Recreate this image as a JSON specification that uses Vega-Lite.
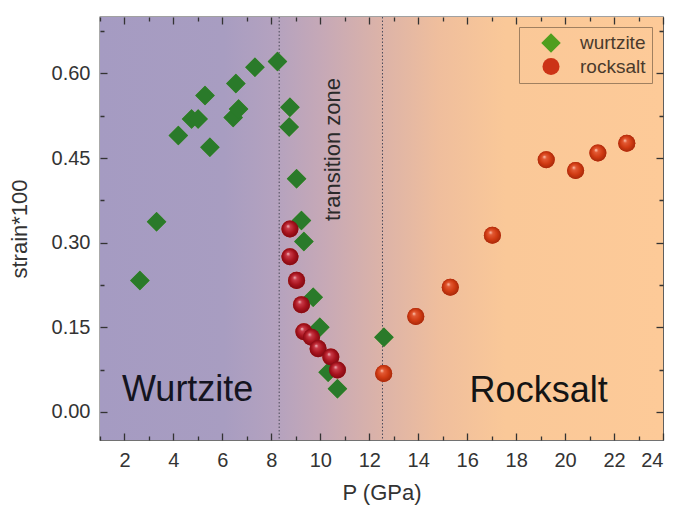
{
  "$schema": "https://vega.github.io/schema/vega-lite/v6.json",
  "autosize": "none",
  "width": 563,
  "height": 423,
  "padding": {"left": 100, "top": 17, "right": 15, "bottom": 72},
  "background": "white",
  "config": {
    "font": "Liberation Sans",
    "view": {"stroke": "#444444", "strokeWidth": 1.3},
    "axis": {"grid": false, "domain": false, "tickColor": "#333333", "tickWidth": 1.3, "labelColor": "#333333", "labelFontSize": 20, "titleFontSize": 22, "titleFontWeight": "normal", "titleColor": "#333333"}
  },
  "datasets": {
    "points": [
      {"P": 2.63, "strain": 0.233, "phase": "wurtzite"},
      {"P": 3.31, "strain": 0.337, "phase": "wurtzite"},
      {"P": 4.2, "strain": 0.49, "phase": "wurtzite"},
      {"P": 4.74, "strain": 0.519, "phase": "wurtzite"},
      {"P": 5.01, "strain": 0.519, "phase": "wurtzite"},
      {"P": 5.29, "strain": 0.561, "phase": "wurtzite"},
      {"P": 5.49, "strain": 0.469, "phase": "wurtzite"},
      {"P": 6.44, "strain": 0.522, "phase": "wurtzite"},
      {"P": 6.66, "strain": 0.537, "phase": "wurtzite"},
      {"P": 6.55, "strain": 0.582, "phase": "wurtzite"},
      {"P": 7.33, "strain": 0.611, "phase": "wurtzite"},
      {"P": 8.25, "strain": 0.621, "phase": "wurtzite"},
      {"P": 8.76, "strain": 0.54, "phase": "wurtzite"},
      {"P": 8.73, "strain": 0.505, "phase": "wurtzite"},
      {"P": 9.03, "strain": 0.413, "phase": "wurtzite"},
      {"P": 9.23, "strain": 0.339, "phase": "wurtzite"},
      {"P": 9.33, "strain": 0.302, "phase": "wurtzite"},
      {"P": 9.71, "strain": 0.203, "phase": "wurtzite"},
      {"P": 9.98, "strain": 0.15, "phase": "wurtzite"},
      {"P": 10.32, "strain": 0.07, "phase": "wurtzite"},
      {"P": 10.7, "strain": 0.041, "phase": "wurtzite"},
      {"P": 12.6, "strain": 0.132, "phase": "wurtzite"},
      {"P": 8.76, "strain": 0.324, "phase": "rocksalt"},
      {"P": 8.76, "strain": 0.275, "phase": "rocksalt"},
      {"P": 9.03, "strain": 0.233, "phase": "rocksalt"},
      {"P": 9.23, "strain": 0.19, "phase": "rocksalt"},
      {"P": 9.33, "strain": 0.142, "phase": "rocksalt"},
      {"P": 9.64, "strain": 0.132, "phase": "rocksalt"},
      {"P": 9.91, "strain": 0.112, "phase": "rocksalt"},
      {"P": 10.43, "strain": 0.097, "phase": "rocksalt"},
      {"P": 10.7, "strain": 0.074, "phase": "rocksalt"},
      {"P": 12.59, "strain": 0.068, "phase": "rocksalt"},
      {"P": 13.9, "strain": 0.169, "phase": "rocksalt"},
      {"P": 15.31, "strain": 0.221, "phase": "rocksalt"},
      {"P": 17.03, "strain": 0.313, "phase": "rocksalt"},
      {"P": 19.23, "strain": 0.447, "phase": "rocksalt"},
      {"P": 20.43, "strain": 0.428, "phase": "rocksalt"},
      {"P": 21.34, "strain": 0.459, "phase": "rocksalt"},
      {"P": 22.52, "strain": 0.476, "phase": "rocksalt"}
    ],
    "bounds": [{"P": 8.32}, {"P": 12.54}]
  },
  "layer": [
    {
      "data": {"values": [{}]},
      "mark": {"type": "rect", "fill": {"gradient": "linear", "x1": 0, "y1": 0, "x2": 1, "y2": 0, "stops": [
        {"offset": 0, "color": "#a59bc2"},
        {"offset": 0.22, "color": "#a89dc1"},
        {"offset": 0.31, "color": "#b4a2bf"},
        {"offset": 0.4, "color": "#c7a9b6"},
        {"offset": 0.5, "color": "#dcb3a8"},
        {"offset": 0.6, "color": "#efbe9d"},
        {"offset": 0.72, "color": "#fac898"},
        {"offset": 1, "color": "#fdca98"}
      ]}},
      "encoding": {}
    },
    {
      "data": {"name": "bounds"},
      "mark": {"type": "rule", "color": "#4a4a5a", "strokeWidth": 1, "strokeDash": [1.5, 2]},
      "encoding": {"x": {"field": "P", "type": "quantitative", "axis": null}}
    },
    {
      "data": {"name": "points"},
      "mark": {"type": "point", "filled": true, "opacity": 1},
      "encoding": {
        "x": {"field": "P", "type": "quantitative", "scale": {"domain": [1, 24], "nice": false, "zero": false},
          "axis": {"orient": "bottom", "zindex": 2, "offset": -7, "tickSize": 7, "values": [1,2,3,4,5,6,7,8,9,10,11,12,13,14,15,16,17,18,19,20,21,22,23,24], "labelExpr": "datum.value % 2 == 0 ? datum.label : ''", "tickDash": {"condition": {"test": "datum.value % 2 != 0", "value": [0, 3, 4]}, "value": []}, "labelPadding": 10, "title": "P (GPa)", "titlePadding": 12}},
        "y": {"field": "strain", "type": "quantitative", "scale": {"domain": [-0.05, 0.7], "nice": false, "zero": false},
          "axis": {"orient": "left", "zindex": 2, "offset": -7, "tickSize": 7, "values": [0, 0.075, 0.15, 0.225, 0.3, 0.375, 0.45, 0.525, 0.6, 0.675], "labelExpr": "round(datum.value * 1000) % 150 == 0 ? format(datum.value, '.2f') : ''", "tickDash": {"condition": {"test": "round(datum.value * 1000) % 150 != 0", "value": [0, 3, 4]}, "value": []}, "labelPadding": 10, "title": "strain*100", "titlePadding": 20}},
        "shape": {"field": "phase", "type": "nominal", "scale": {"domain": ["wurtzite", "rocksalt"], "range": ["diamond", "circle"]}, "legend": null},
        "color": {"field": "phase", "type": "nominal", "scale": {"domain": ["wurtzite", "rocksalt"], "range": ["#4f9e1e", "#cc3316"]},
          "legend": {"title": null, "orient": "none", "legendX": 419, "legendY": 10, "strokeColor": "#a08060", "padding": 6, "symbolOffset": 16, "labelOffset": 19, "rowPadding": 4, "symbolSize": 300, "labelFontSize": 19, "labelColor": "#4a3a2c", "symbolStrokeWidth": 0}},
        "size": {"field": "phase", "type": "nominal", "scale": {"domain": ["wurtzite", "rocksalt"], "range": [380, 290]}, "legend": null}
      }
    },
    {
      "data": {"name": "points"},
      "transform": [{"filter": "datum.phase == 'wurtzite'"}],
      "mark": {"type": "point", "shape": "diamond", "filled": true, "fill": "#2a7a2a", "opacity": 1, "size": 380, "strokeWidth": 0},
      "encoding": {
        "x": {"field": "P", "type": "quantitative", "axis": {"orient": "top", "zindex": 2, "offset": -7, "tickSize": 7, "values": [1,2,3,4,5,6,7,8,9,10,11,12,13,14,15,16,17,18,19,20,21,22,23,24], "labels": false, "tickDash": {"condition": {"test": "datum.value % 2 != 0", "value": [0, 3, 4]}, "value": []}, "title": null}},
        "y": {"field": "strain", "type": "quantitative", "axis": {"orient": "right", "zindex": 2, "offset": -7, "tickSize": 7, "values": [0, 0.075, 0.15, 0.225, 0.3, 0.375, 0.45, 0.525, 0.6, 0.675], "labels": false, "tickDash": {"condition": {"test": "round(datum.value * 1000) % 150 != 0", "value": [0, 3, 4]}, "value": []}, "title": null}}
      }
    },
    {
      "data": {"name": "points"},
      "transform": [{"filter": "datum.phase == 'rocksalt' && datum.P < 12"}],
      "mark": {"type": "point", "shape": "circle", "filled": true, "opacity": 1, "size": 290, "strokeWidth": 0,
        "fill": {"gradient": "radial", "x1": 0.38, "y1": 0.32, "r1": 0, "x2": 0.5, "y2": 0.5, "r2": 0.55, "stops": [
          {"offset": 0, "color": "#f2c4c8"},
          {"offset": 0.22, "color": "#c83a48"},
          {"offset": 0.6, "color": "#a8141e"},
          {"offset": 1, "color": "#7a0610"}
        ]}},
      "encoding": {
        "x": {"field": "P", "type": "quantitative", "axis": null},
        "y": {"field": "strain", "type": "quantitative", "axis": null}
      }
    },
    {
      "data": {"name": "points"},
      "transform": [{"filter": "datum.phase == 'rocksalt' && datum.P >= 12"}],
      "mark": {"type": "point", "shape": "circle", "filled": true, "opacity": 1, "size": 290, "strokeWidth": 0,
        "fill": {"gradient": "radial", "x1": 0.38, "y1": 0.32, "r1": 0, "x2": 0.5, "y2": 0.5, "r2": 0.55, "stops": [
          {"offset": 0, "color": "#ffd2c0"},
          {"offset": 0.22, "color": "#e25a34"},
          {"offset": 0.6, "color": "#d03a12"},
          {"offset": 1, "color": "#a02608"}
        ]}},
      "encoding": {
        "x": {"field": "P", "type": "quantitative", "axis": null},
        "y": {"field": "strain", "type": "quantitative", "axis": null}
      }
    },
    {
      "data": {"values": [{}]},
      "mark": {"type": "text", "text": "Wurtzite", "fontSize": 36, "align": "left", "baseline": "alphabetic", "color": "#141420"},
      "encoding": {
        "x": {"datum": 1.9, "type": "quantitative", "axis": null},
        "y": {"datum": 0.02, "type": "quantitative", "axis": null}
      }
    },
    {
      "data": {"values": [{}]},
      "mark": {"type": "text", "text": "Rocksalt", "fontSize": 36, "align": "left", "baseline": "alphabetic", "color": "#141414"},
      "encoding": {
        "x": {"datum": 16.1, "type": "quantitative", "axis": null},
        "y": {"datum": 0.017, "type": "quantitative", "axis": null}
      }
    },
    {
      "data": {"values": [{}]},
      "mark": {"type": "text", "text": "transition zone", "fontSize": 22, "angle": 270, "align": "center", "baseline": "middle", "color": "#2a2a2a"},
      "encoding": {
        "x": {"datum": 10.5, "type": "quantitative", "axis": null},
        "y": {"datum": 0.465, "type": "quantitative", "axis": null}
      }
    }
  ]
}
